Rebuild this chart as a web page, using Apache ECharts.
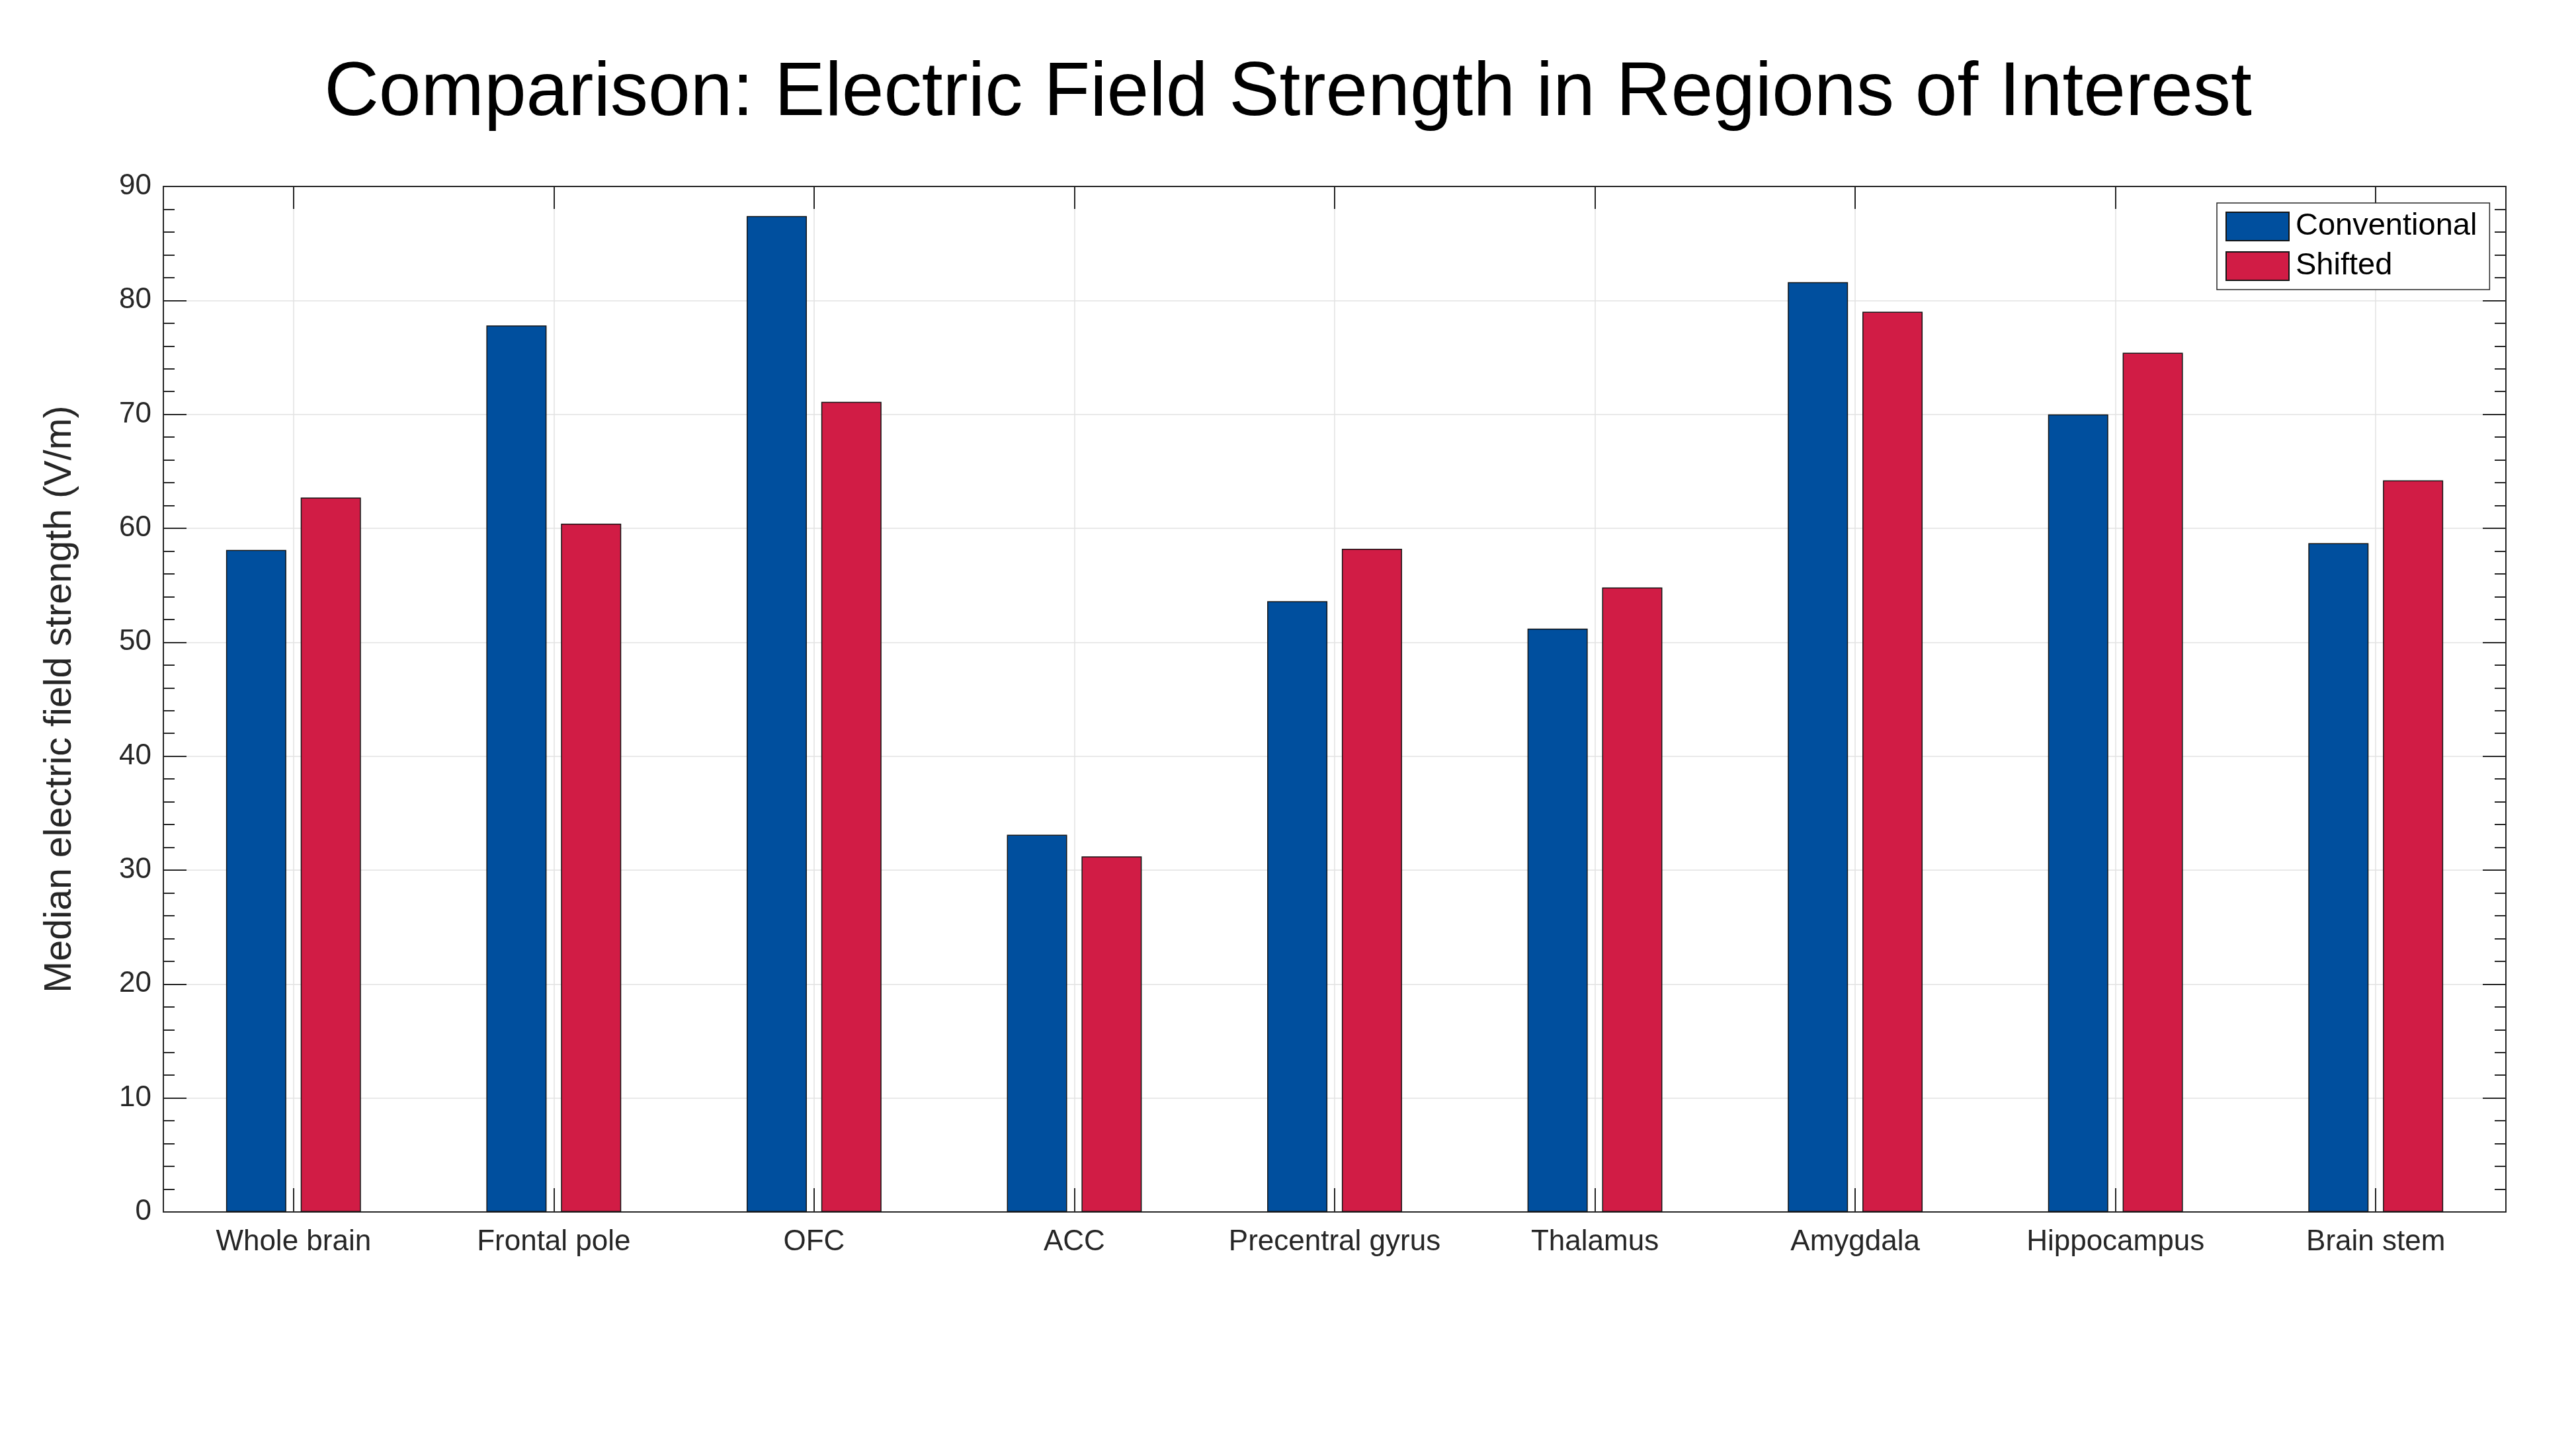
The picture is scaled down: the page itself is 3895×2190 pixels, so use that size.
<!DOCTYPE html>
<html>
<head>
<meta charset="utf-8">
<script src="https://cdn.jsdelivr.net/npm/echarts@6/dist/echarts.min.js"></script>
<style>
html,body{margin:0;padding:0;background:#fff;}
#chart{width:3895px;height:2190px;}
</style>
</head>
<body>
<div id="chart"></div>
<script>
const categories = ['Whole brain','Frontal pole','OFC','ACC','Precentral gyrus','Thalamus','Amygdala','Hippocampus','Brain stem'];
const conventional = [58.1, 77.8, 87.4, 33.1, 53.6, 51.2, 81.6, 70.0, 58.7];
const shifted = [62.7, 60.4, 71.1, 31.2, 58.2, 54.8, 79.0, 75.4, 64.2];
const seriesNames = ['Conventional','Shifted'];
const yTicks = {min: 0, max: 90, interval: 10};

const FONT = '"Liberation Sans", Arial, Helvetica, sans-serif';
const AX = '#262626';
const GRID = '#e2e2e2';

const chart = echarts.init(document.getElementById('chart'), null, {renderer: 'canvas'});
const barStyle = (c) => ({color: c, borderColor: '#141414', borderWidth: 1.5});

chart.setOption({
  backgroundColor: '#ffffff',
  animation: false,
  textStyle: {fontFamily: FONT},
  title: {
    text: 'Comparison: Electric Field Strength in Regions of Interest',
    left: 'center',
    top: 80,
    textStyle: {fontFamily: FONT, fontSize: 114.5, fontWeight: 'normal', color: '#000'}
  },
  legend: {
    orient: 'vertical',
    left: 3352,
    top: 307,
    padding: [12, 19, 12, 13],
    itemGap: 13,
    itemWidth: 95,
    itemHeight: 43,
    icon: 'rect',
    borderColor: AX,
    borderWidth: 1.5,
    backgroundColor: '#fff',
    textStyle: {fontFamily: FONT, fontSize: 47, color: '#000', lineHeight: 43, padding: [0, 0, 0, 5]},
    data: seriesNames
  },
  grid: {left: 247, right: 106, top: 282, bottom: 357, containLabel: false},
  xAxis: [
    {
      type: 'category',
      data: categories,
      position: 'bottom',
      boundaryGap: true,
      axisLine: {show: true, onZero: false, lineStyle: {color: AX, width: 2}},
      axisTick: {show: true, alignWithLabel: true, inside: true, length: 36, lineStyle: {color: AX, width: 2}},
      axisLabel: {fontFamily: FONT, fontSize: 44, color: AX, margin: 24, interval: 0},
      splitLine: {show: true, alignWithLabel: true, lineStyle: {color: GRID, width: 1.5}}
    },
    {
      type: 'category',
      data: categories,
      position: 'top',
      boundaryGap: true,
      axisLine: {show: true, onZero: false, lineStyle: {color: AX, width: 2}},
      axisTick: {show: true, alignWithLabel: true, inside: true, length: 34, lineStyle: {color: AX, width: 2}},
      axisLabel: {show: false},
      splitLine: {show: false}
    }
  ],
  yAxis: [
    {
      type: 'value',
      min: yTicks.min, max: yTicks.max, interval: yTicks.interval,
      position: 'left',
      name: 'Median electric field strength (V/m)',
      nameLocation: 'middle',
      nameGap: 127,
      nameTextStyle: {fontFamily: FONT, fontSize: 57.5, color: AX},
      axisLine: {show: true, onZero: false, lineStyle: {color: AX, width: 2}},
      axisTick: {show: true, inside: true, length: 35, lineStyle: {color: AX, width: 2}},
      minorTick: {show: true, splitNumber: 5, length: 17, lineStyle: {color: AX, width: 2}},
      axisLabel: {fontFamily: FONT, fontSize: 44, color: AX, margin: 18},
      splitLine: {show: true, lineStyle: {color: GRID, width: 1.5}}
    },
    {
      type: 'value',
      min: yTicks.min, max: yTicks.max, interval: yTicks.interval,
      position: 'right',
      axisLine: {show: true, onZero: false, lineStyle: {color: AX, width: 2}},
      axisTick: {show: true, inside: true, length: 35, lineStyle: {color: AX, width: 2}},
      minorTick: {show: true, splitNumber: 5, length: 17, lineStyle: {color: AX, width: 2}},
      axisLabel: {show: false},
      splitLine: {show: false}
    }
  ],
  series: [
    {
      name: seriesNames[0], type: 'bar', xAxisIndex: 0, yAxisIndex: 0,
      data: conventional, barWidth: 91, barGap: '24%',
      itemStyle: barStyle('#004F9E')
    },
    {
      name: seriesNames[1], type: 'bar', xAxisIndex: 0, yAxisIndex: 0,
      data: shifted, barWidth: 91, barGap: '24%',
      itemStyle: barStyle('#D11C45')
    }
  ]
});
</script>
</body>
</html>
